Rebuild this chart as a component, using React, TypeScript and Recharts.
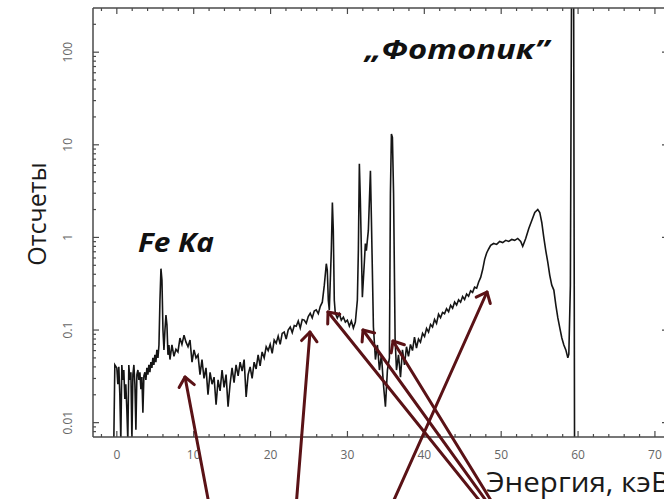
import { LineChart, Line, XAxis, YAxis } from 'recharts'

// gamma spectrum, [energy keV, counts]
const lowNoise: [number, number][] = [
  [-0.39, 0.0065], [-0.26, 0.042], [0, 0.039], [0.13, 0.026], [0.26, 0.04], [0.39, 0.02],
  [0.52, 0.0065], [0.65, 0.042], [0.78, 0.029], [0.91, 0.037], [1.04, 0.018], [1.17, 0.026],
  [1.3, 0.014], [1.43, 0.0065], [1.56, 0.042], [1.69, 0.029], [1.83, 0.035], [1.96, 0.0065],
  [2.09, 0.033], [2.22, 0.042], [2.35, 0.026], [2.48, 0.0084], [2.61, 0.033], [2.74, 0.037],
  [2.87, 0.029], [3.0, 0.035], [3.13, 0.023], [3.26, 0.031], [3.39, 0.0128], [3.52, 0.032],
  [3.65, 0.035], [3.78, 0.029], [3.91, 0.039], [4.04, 0.033], [4.17, 0.042], [4.3, 0.035],
  [4.43, 0.045], [4.56, 0.039], [4.69, 0.05], [4.82, 0.042], [4.95, 0.054], [5.08, 0.045],
  [5.21, 0.061], [5.35, 0.05], [5.48, 0.069],
]

const feKa: [number, number][] = [
  [5.61, 0.21], [5.74, 0.46], [5.87, 0.345], [6.0, 0.1], [6.13, 0.061], [6.26, 0.1],
  [6.39, 0.145], [6.52, 0.113], [6.65, 0.054], [6.78, 0.069],
]

const lowContinuum: [number, number][] = [
  [6.91, 0.048], [7.17, 0.069], [7.43, 0.052], [7.69, 0.062], [7.95, 0.058], [8.21, 0.082],
  [8.47, 0.07], [8.74, 0.088], [9.0, 0.074], [9.26, 0.066], [9.52, 0.078], [9.78, 0.045],
  [10.04, 0.061], [10.3, 0.05], [10.56, 0.054], [10.82, 0.033], [11.08, 0.048], [11.34, 0.03],
  [11.6, 0.039], [11.86, 0.02], [12.13, 0.035], [12.39, 0.026], [12.65, 0.031], [12.91, 0.0156],
  [13.17, 0.029], [13.43, 0.022], [13.69, 0.037], [13.95, 0.024], [14.21, 0.033], [14.47, 0.0149],
  [14.73, 0.026], [14.99, 0.039], [15.25, 0.027], [15.51, 0.042], [15.78, 0.032], [16.04, 0.045],
  [16.3, 0.036], [16.56, 0.048], [16.82, 0.019], [17.08, 0.033], [17.34, 0.04], [17.6, 0.03],
  [17.86, 0.045], [18.12, 0.038],
]

const risingContinuum: [number, number][] = [
  [18.38, 0.054], [18.64, 0.041], [18.9, 0.058], [19.17, 0.05], [19.43, 0.066], [19.69, 0.06],
  [19.95, 0.07], [20.21, 0.056], [20.47, 0.078], [20.73, 0.072], [20.99, 0.086], [21.25, 0.07],
  [21.51, 0.092], [21.77, 0.095], [22.03, 0.08], [22.29, 0.1], [22.56, 0.108], [22.82, 0.094],
  [23.08, 0.112], [23.34, 0.11], [23.6, 0.125], [23.86, 0.105], [24.12, 0.13], [24.38, 0.128],
  [24.64, 0.118], [24.9, 0.14], [25.16, 0.152], [25.42, 0.135], [25.68, 0.16], [25.94, 0.165],
  [26.21, 0.15], [26.47, 0.18], [26.73, 0.2],
]

const xrayLines: [number, number][] = [
  [26.99, 0.305], [27.25, 0.52], [27.38, 0.44], [27.51, 0.21], [27.64, 0.164], [27.9, 0.72],
  [28.04, 2.38], [28.16, 1.19], [28.29, 0.21], [28.42, 0.152], [28.68, 0.135], [28.94, 0.15],
  [29.2, 0.128], [29.47, 0.138], [29.73, 0.122], [29.99, 0.128], [30.25, 0.11], [30.51, 0.125],
  [30.77, 0.105], [31.03, 0.122], [31.29, 0.21], [31.42, 0.72], [31.55, 6.25], [31.68, 2.5],
  [31.94, 0.226], [32.2, 0.54], [32.33, 0.86], [32.46, 0.72], [32.72, 1.19], [32.99, 5.25],
  [33.12, 1.52], [33.38, 0.108], [33.64, 0.048], [33.9, 0.069], [34.16, 0.037], [34.42, 0.054],
  [34.68, 0.026], [34.94, 0.0149], [35.2, 0.037], [35.46, 0.05], [35.59, 3.0], [35.72, 13.1],
  [35.85, 12.0], [36.0, 3.0], [36.2, 0.08],
]

const highContinuum: [number, number][] = [
  [36.38, 0.037], [36.64, 0.054], [36.9, 0.031], [37.16, 0.061], [37.42, 0.042], [37.68, 0.066],
  [37.94, 0.052], [38.2, 0.07], [38.46, 0.06], [38.72, 0.084], [38.98, 0.064], [39.24, 0.08],
  [39.5, 0.074], [39.77, 0.092], [40.03, 0.085], [40.29, 0.104], [40.55, 0.095], [40.81, 0.115],
  [41.07, 0.108], [41.33, 0.13], [41.59, 0.118], [41.85, 0.148], [42.11, 0.136], [42.37, 0.155],
  [42.63, 0.15], [42.89, 0.17], [43.16, 0.158], [43.42, 0.185], [43.68, 0.172], [43.94, 0.2],
  [44.2, 0.186], [44.46, 0.212], [44.72, 0.2], [44.98, 0.23], [45.24, 0.214], [45.5, 0.245],
  [45.76, 0.232], [46.02, 0.265], [46.28, 0.255], [46.54, 0.29], [46.81, 0.283], [47.07, 0.33],
  [47.33, 0.37], [47.59, 0.45], [47.85, 0.58], [48.11, 0.68], [48.37, 0.75], [48.63, 0.82],
]

const comptonEdge: [number, number][] = [
  [49.02, 0.86], [49.41, 0.84], [49.8, 0.905], [50.2, 0.88], [50.59, 0.93], [50.98, 0.905],
  [51.37, 0.95], [51.76, 0.93], [52.15, 0.975], [52.54, 0.905], [52.8, 0.8], [53.19, 0.975],
  [53.59, 1.25], [53.98, 1.52], [54.37, 1.86], [54.76, 2.0], [55.02, 1.86], [55.28, 1.45],
  [55.54, 1.0], [55.8, 0.72], [56.06, 0.54], [56.32, 0.39], [56.58, 0.305], [56.85, 0.27],
  [57.11, 0.186], [57.37, 0.135], [57.63, 0.105], [57.89, 0.082], [58.15, 0.069], [58.41, 0.061],
  [58.67, 0.05], [58.8, 0.055],
]

const photopeak: [number, number][] = [
  [59.0, 0.3], [59.2, 5000], [59.4, 5000], [59.55, 0.003],
]

const spectrum = [
  ...lowNoise, ...feKa, ...lowContinuum, ...risingContinuum,
  ...xrayLines, ...highContinuum, ...comptonEdge, ...photopeak,
].map(([e, c]) => ({ e, c }))

const xTicks = [
  -2, 0, 2, 4, 6, 8, 10, 12, 14, 16, 18, 20, 22, 24, 26, 28, 30, 32, 34, 36,
  38, 40, 42, 44, 46, 48, 50, 52, 54, 56, 58, 60, 62, 64, 66, 68, 70,
]
const yTicks = [
  0.008, 0.009, 0.01, 0.02, 0.03, 0.04, 0.05, 0.06, 0.07, 0.08, 0.09,
  0.1, 0.2, 0.3, 0.4, 0.5, 0.6, 0.7, 0.8, 0.9,
  1, 2, 3, 4, 5, 6, 7, 8, 9,
  10, 20, 30, 40, 50, 60, 70, 80, 90,
  100, 200,
]
const yLabels = [0.01, 0.1, 1, 10, 100]

const AXIS = '#4a4a4a'
const TICK_TEXT = '#666'
const ARROW = '#5a1216'

const W = 700
const H = 499
// plot box: x 93..668, y 8..437
const X_AXIS_H = 30
const TOP_AXIS_H = 4
const Y_AXIS_W = 60
const RIGHT_AXIS_W = 10

const isMajorX = (v: number) => Math.abs(v % 10) < 1e-9
const isMajorY = (v: number) => yLabels.includes(v)

function BottomTick({ x, y, payload }: any) {
  const major = isMajorX(payload.value)
  return (
    <g>
      <line x1={x} x2={x} y1={y} y2={y - (major ? 6 : 3)} stroke={AXIS} strokeWidth={1.2} />
      {major && (
        <text x={x} y={y + 22} textAnchor="middle" fontSize={12} fill={TICK_TEXT}>
          {payload.value}
        </text>
      )}
    </g>
  )
}

function TopTick({ x, y, payload }: any) {
  const major = isMajorX(payload.value)
  return <line x1={x} x2={x} y1={y} y2={y + (major ? 6 : 3)} stroke={AXIS} strokeWidth={1.2} />
}

function LeftTick({ x, y, payload }: any) {
  const major = isMajorY(payload.value)
  const cx = x - 25
  return (
    <g>
      <line x1={x} x2={x + (major ? 6 : 3)} y1={y} y2={y} stroke={AXIS} strokeWidth={1.2} />
      {major && (
        <text
          x={cx}
          y={y}
          transform={`rotate(-90 ${cx} ${y})`}
          textAnchor="middle"
          dominantBaseline="central"
          fontSize={12}
          fill={TICK_TEXT}
        >
          {String(payload.value)}
        </text>
      )}
    </g>
  )
}

function RightTick({ x, y, payload }: any) {
  const major = isMajorY(payload.value)
  return <line x1={x} x2={x - (major ? 6 : 3)} y1={y} y2={y} stroke={AXIS} strokeWidth={1.2} />
}

// arrows from the caption area up to the spectral features
const arrows = [
  { x1: 212, y1: 520, x2: 185, y2: 377 },
  { x1: 295, y1: 520, x2: 310, y2: 332 },
  { x1: 495, y1: 520, x2: 328, y2: 312 },
  { x1: 500, y1: 520, x2: 363, y2: 330 },
  { x1: 503, y1: 520, x2: 393, y2: 341 },
  { x1: 385, y1: 520, x2: 487, y2: 292 },
]

function Arrow({ x1, y1, x2, y2 }: { x1: number; y1: number; x2: number; y2: number }) {
  const a = Math.atan2(y2 - y1, x2 - x1)
  const len = 12
  const spread = 0.7
  const p1 = `${x2 - len * Math.cos(a - spread)},${y2 - len * Math.sin(a - spread)}`
  const p2 = `${x2 - len * Math.cos(a + spread)},${y2 - len * Math.sin(a + spread)}`
  return (
    <g stroke={ARROW} strokeWidth={3} fill="none" strokeLinecap="round" strokeLinejoin="round">
      <line x1={x1} y1={y1} x2={x2} y2={y2} />
      <polyline points={`${p1} ${x2},${y2} ${p2}`} />
    </g>
  )
}

export default function App() {
  return (
    <div
      style={{
        position: 'fixed',
        left: 0,
        top: 0,
        width: 664,
        height: 499,
        overflow: 'hidden',
        background: '#fff',
        fontFamily: '"Open Sans", sans-serif',
      }}
    >
      <LineChart
        width={W}
        height={H}
        data={spectrum}
        margin={{
          top: 8 - TOP_AXIS_H,
          left: 93 - Y_AXIS_W,
          right: W - 668 - RIGHT_AXIS_W,
          bottom: H - 437 - X_AXIS_H,
        }}
      >
        <XAxis
          dataKey="e"
          type="number"
          domain={[-3.1, 71.7]}
          allowDataOverflow
          ticks={xTicks}
          interval={0}
          height={X_AXIS_H}
          tickSize={0}
          tickMargin={0}
          tickLine={false}
          axisLine={{ stroke: AXIS, strokeWidth: 1.5 }}
          tick={BottomTick}
        />
        <XAxis
          xAxisId="top"
          orientation="top"
          dataKey="e"
          type="number"
          domain={[-3.1, 71.7]}
          allowDataOverflow
          ticks={xTicks}
          interval={0}
          height={TOP_AXIS_H}
          tickSize={0}
          tickMargin={0}
          tickLine={false}
          axisLine={{ stroke: AXIS, strokeWidth: 1.5 }}
          tick={TopTick}
        />
        <YAxis
          type="number"
          scale="log"
          domain={[0.007, 300]}
          allowDataOverflow
          ticks={yTicks}
          interval={0}
          width={Y_AXIS_W}
          tickSize={0}
          tickMargin={0}
          tickLine={false}
          axisLine={{ stroke: AXIS, strokeWidth: 1.5 }}
          tick={LeftTick}
        />
        <YAxis
          yAxisId="right"
          orientation="right"
          type="number"
          scale="log"
          domain={[0.007, 300]}
          allowDataOverflow
          ticks={yTicks}
          interval={0}
          width={RIGHT_AXIS_W}
          tickSize={0}
          tickMargin={0}
          tickLine={false}
          axisLine={{ stroke: AXIS, strokeWidth: 1.5 }}
          tick={RightTick}
        />
        <Line
          dataKey="c"
          type="linear"
          stroke="#151515"
          strokeWidth={1.6}
          dot={false}
          isAnimationActive={false}
        />
      </LineChart>

      <svg
        width={664}
        height={499}
        style={{ position: 'absolute', left: 0, top: 0, pointerEvents: 'none' }}
      >
        <text
          x={36}
          y={214}
          transform="rotate(-90 36 214)"
          textAnchor="middle"
          dominantBaseline="central"
          fontSize={25}
          fill="#1a1a1a"
        >
          Отсчеты
        </text>
        <text x={486} y={492} fontSize={27} fill="#1a1a1a" textLength={184} lengthAdjust="spacingAndGlyphs">
          Энергия, кэВ
        </text>
        <text
          x={138}
          y={252}
          fontSize={26}
          fontWeight={700}
          fontStyle="italic"
          fill="#111"
          textLength={76}
          lengthAdjust="spacingAndGlyphs"
        >
          Fe Ka
        </text>
        <text
          x={365}
          y={59}
          fontSize={27}
          fontWeight={700}
          fontStyle="italic"
          fill="#111"
          textLength={184}
          lengthAdjust="spacingAndGlyphs"
        >
          „Фотопик”
        </text>
        {arrows.map((a, i) => (
          <Arrow key={i} {...a} />
        ))}
      </svg>
    </div>
  )
}
